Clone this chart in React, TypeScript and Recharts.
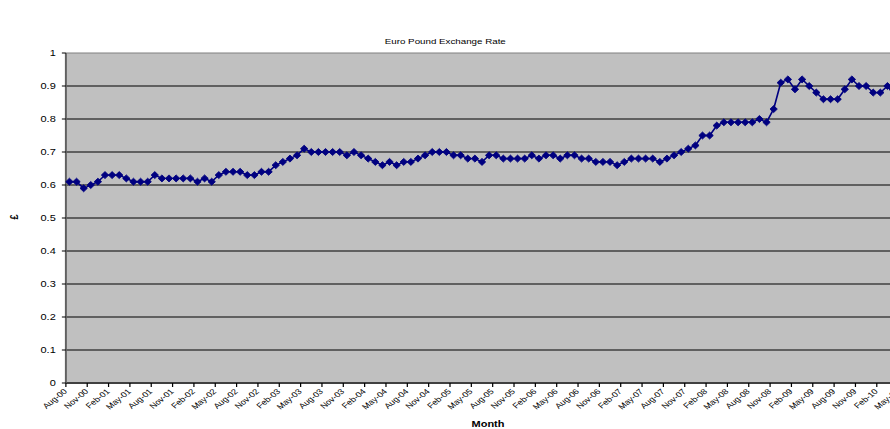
import { LineChart, Line, XAxis, YAxis, CartesianGrid, ReferenceLine } from "recharts";

// monthly averages, Aug-00 .. May-10
const months = [
  "Aug-00", "Sep-00", "Oct-00", "Nov-00", "Dec-00",
  "Jan-01", "Feb-01", "Mar-01", "Apr-01", "May-01", "Jun-01", "Jul-01", "Aug-01", "Sep-01", "Oct-01", "Nov-01", "Dec-01",
  "Jan-02", "Feb-02", "Mar-02", "Apr-02", "May-02", "Jun-02", "Jul-02", "Aug-02", "Sep-02", "Oct-02", "Nov-02", "Dec-02",
  "Jan-03", "Feb-03", "Mar-03", "Apr-03", "May-03", "Jun-03", "Jul-03", "Aug-03", "Sep-03", "Oct-03", "Nov-03", "Dec-03",
  "Jan-04", "Feb-04", "Mar-04", "Apr-04", "May-04", "Jun-04", "Jul-04", "Aug-04", "Sep-04", "Oct-04", "Nov-04", "Dec-04",
  "Jan-05", "Feb-05", "Mar-05", "Apr-05", "May-05", "Jun-05", "Jul-05", "Aug-05", "Sep-05", "Oct-05", "Nov-05", "Dec-05",
  "Jan-06", "Feb-06", "Mar-06", "Apr-06", "May-06", "Jun-06", "Jul-06", "Aug-06", "Sep-06", "Oct-06", "Nov-06", "Dec-06",
  "Jan-07", "Feb-07", "Mar-07", "Apr-07", "May-07", "Jun-07", "Jul-07", "Aug-07", "Sep-07", "Oct-07", "Nov-07", "Dec-07",
  "Jan-08", "Feb-08", "Mar-08", "Apr-08", "May-08", "Jun-08", "Jul-08", "Aug-08", "Sep-08", "Oct-08", "Nov-08", "Dec-08",
  "Jan-09", "Feb-09", "Mar-09", "Apr-09", "May-09", "Jun-09", "Jul-09", "Aug-09", "Sep-09", "Oct-09", "Nov-09", "Dec-09",
  "Jan-10", "Feb-10", "Mar-10", "Apr-10", "May-10",
];

const rates = [
  0.61, 0.61, 0.59, 0.60, 0.61,
  0.63, 0.63, 0.63, 0.62, 0.61, 0.61, 0.61, 0.63, 0.62, 0.62, 0.62, 0.62,
  0.62, 0.61, 0.62, 0.61, 0.63, 0.64, 0.64, 0.64, 0.63, 0.63, 0.64, 0.64,
  0.66, 0.67, 0.68, 0.69, 0.71, 0.70, 0.70, 0.70, 0.70, 0.70, 0.69, 0.70,
  0.69, 0.68, 0.67, 0.66, 0.67, 0.66, 0.67, 0.67, 0.68, 0.69, 0.70, 0.70,
  0.70, 0.69, 0.69, 0.68, 0.68, 0.67, 0.69, 0.69, 0.68, 0.68, 0.68, 0.68,
  0.69, 0.68, 0.69, 0.69, 0.68, 0.69, 0.69, 0.68, 0.68, 0.67, 0.67, 0.67,
  0.66, 0.67, 0.68, 0.68, 0.68, 0.68, 0.67, 0.68, 0.69, 0.70, 0.71, 0.72,
  0.75, 0.75, 0.78, 0.79, 0.79, 0.79, 0.79, 0.79, 0.80, 0.79, 0.83, 0.91,
  0.92, 0.89, 0.92, 0.90, 0.88, 0.86, 0.86, 0.86, 0.89, 0.92, 0.90, 0.90,
  0.88, 0.88, 0.90, 0.87, 0.86,
];

const yTicks = [0, 0.1, 0.2, 0.3, 0.4, 0.5, 0.6, 0.7, 0.8, 0.9, 1];
const gridValues = [0.1, 0.2, 0.3, 0.4, 0.5, 0.6, 0.7, 0.8, 0.9];

const data = months.map((m, i) => ({ month: m, rate: rates[i] }));

// the source picture is stretched sideways, so the chart is drawn narrow and scaled
const STRETCH = 1.22;
const W = 760;
const H = 435;
const PLOT_LEFT = 54;
const PLOT_RIGHT = 742;
const HALF = (PLOT_RIGHT - PLOT_LEFT) / months.length / 2;
const FONT = "'Liberation Sans', Arial, sans-serif";

const MonthTick = (props: any) => {
  const { x, y, payload } = props;
  const tx = x - 1.5;
  const ty = y + 9;
  return (
    <g>
      <line x1={x - HALF} x2={x - HALF} y1={y} y2={y + 4} stroke="#000" strokeWidth={1} />
      <text
        x={tx}
        y={ty}
        transform={`rotate(-45 ${tx} ${ty})`}
        textAnchor="end"
        fontSize={7.6}
        fontFamily={FONT}
        fill="#000"
      >
        {payload.value}
      </text>
    </g>
  );
};

const Diamond = (props: any) => {
  const { cx, cy } = props;
  if (cx == null || cy == null) return null;
  return (
    <polygon
      points={`${cx},${cy - 3.5} ${cx + 3},${cy} ${cx},${cy + 3.5} ${cx - 3},${cy}`}
      fill="#000080"
      stroke="#000080"
      strokeWidth={0.8}
    />
  );
};

export default function App() {
  return (
    <div style={{ position: "fixed", left: 0, top: 0, width: 890, height: 429, overflow: "hidden", background: "#fff" }}>
      <div
        style={{
          position: "absolute",
          left: 0,
          top: 0,
          width: W,
          height: H,
          transform: `scaleX(${STRETCH})`,
          transformOrigin: "0 0",
          fontFamily: FONT,
        }}
      >
        <div style={{ position: "absolute", top: 37, left: 0, width: 730, textAlign: "center", fontSize: 8, color: "#000" }}>
          Euro Pound Exchange Rate
        </div>
        <div
          style={{
            position: "absolute",
            left: 9,
            top: 212,
            fontSize: 9,
            fontWeight: "bold",
            transform: "rotate(-90deg)",
          }}
        >
          £
        </div>
        <div style={{ position: "absolute", top: 419, left: 380, width: 40, textAlign: "center", fontSize: 9, fontWeight: "bold" }}>
          Month
        </div>
        <LineChart width={W} height={H} data={data} margin={{ top: 53, right: W - PLOT_RIGHT, left: 0, bottom: 0 }}>
          <CartesianGrid
            fill="#C0C0C0"
            fillOpacity={1}
            vertical={false}
            horizontalValues={gridValues}
            stroke="#000"
            strokeWidth={1}
          />
          <ReferenceLine y={1} stroke="#808080" strokeWidth={1} />
          <XAxis
            dataKey="month"
            interval={2}
            height={H - 383}
            padding={{ left: HALF, right: HALF }}
            tickLine={false}
            tickSize={0}
            tickMargin={0}
            tick={<MonthTick />}
            axisLine={{ stroke: "#404040", strokeWidth: 2 }}
          />
          <YAxis
            width={PLOT_LEFT}
            domain={[0, 1]}
            ticks={yTicks}
            tickFormatter={(v: number) => (v === 0 || v === 1 ? String(v) : v.toFixed(1))}
            tick={{ fontSize: 9, fill: "#000", fontFamily: FONT }}
            tickSize={3.3}
            tickMargin={5}
            tickLine={{ stroke: "#000" }}
            axisLine={{ stroke: "#606060", strokeWidth: 1.6 }}
            allowDataOverflow
          />
          <Line
            type="linear"
            dataKey="rate"
            stroke="#000080"
            strokeWidth={1.4}
            dot={<Diamond />}
            isAnimationActive={false}
          />
        </LineChart>
      </div>
    </div>
  );
}
